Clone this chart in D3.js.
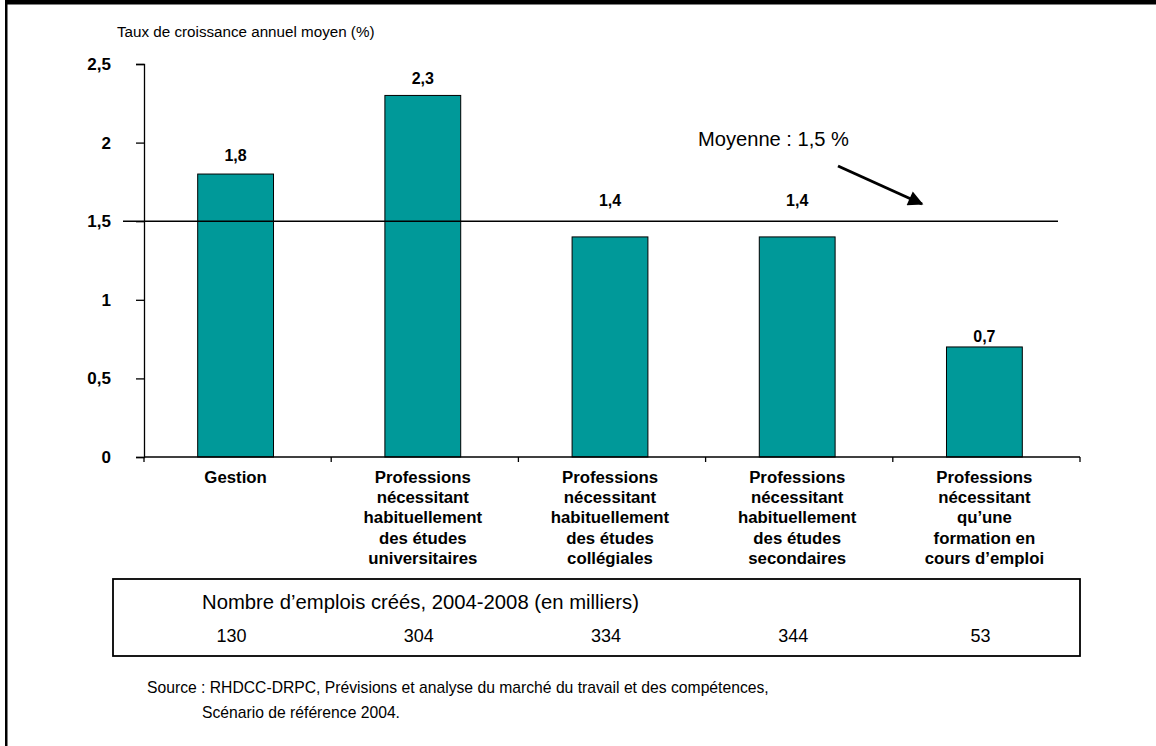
<!DOCTYPE html>
<html>
<head>
<meta charset="utf-8">
<script src="https://cdn.jsdelivr.net/npm/d3@7"></script>
<style>
  html, body { margin: 0; padding: 0; background: #fff; }
  svg { display: block; }
  text { font-family: Arial, "Liberation Sans", sans-serif; fill: #000; }
</style>
</head>
<body>
<svg id="chart" width="1156" height="746"></svg>
<script>
// Occupational groups (x categories), annual growth rate, jobs created
const categories = [
  ["Gestion"],
  ["Professions", "nécessitant", "habituellement", "des études", "universitaires"],
  ["Professions", "nécessitant", "habituellement", "des études", "collégiales"],
  ["Professions", "nécessitant", "habituellement", "des études", "secondaires"],
  ["Professions", "nécessitant", "qu’une", "formation en", "cours d’emploi"]
];
const growthRates = [1.8, 2.3, 1.4, 1.4, 0.7];
const jobsCreated = [130, 304, 334, 344, 53];
const averageRate = 1.5;
const yTicks = [0, 0.5, 1, 1.5, 2, 2.5];

const fmt = v => String(v).replace(".", ",");

const svg = d3.select("#chart");

// Page frame: heavy rule on top, thin rule down the left side
svg.append("rect").attr("x", 5).attr("y", 0).attr("width", 1151).attr("height", 4.5).attr("fill", "#000");
svg.append("rect").attr("x", 5).attr("y", 0).attr("width", 2.5).attr("height", 746).attr("fill", "#000");

const plot = { left: 144, right: 1080, top: 64, bottom: 457 };

const x = d3.scaleBand()
  .domain(d3.range(categories.length))
  .range([plot.left, plot.right])
  .paddingInner(0.595)
  .paddingOuter(0.2975);

const y = d3.scaleLinear().domain([0, 2.5]).range([plot.bottom, plot.top]);

// Y axis title
svg.append("text")
  .attr("x", 117).attr("y", 37)
  .style("font-size", "15.2px")
  .text("Taux de croissance annuel moyen (%)");

// Bars
svg.append("g").selectAll("rect")
  .data(growthRates)
  .join("rect")
  .attr("x", (d, i) => x(i) - 2)
  .attr("width", x.bandwidth())
  .attr("y", d => y(d))
  .attr("height", d => y(0) - y(d))
  .attr("fill", "#009999")
  .attr("stroke", "#000")
  .attr("stroke-width", 1);

// Value labels above the bars
const labelLift = [19, 17, 37, 37, 11];
svg.append("g").selectAll("text")
  .data(growthRates)
  .join("text")
  .attr("x", (d, i) => x(i) + x.bandwidth() / 2 - 2)
  .attr("y", (d, i) => y(d) - labelLift[i] + 6)
  .attr("text-anchor", "middle")
  .style("font-size", "16px")
  .style("font-weight", "bold")
  .text(d => fmt(d));

// Y axis
const yAxis = svg.append("g")
  .attr("transform", `translate(${plot.left},0)`)
  .call(d3.axisLeft(y).tickValues(yTicks).tickSize(8).tickSizeOuter(8).tickPadding(25).tickFormat(fmt));
yAxis.selectAll("path, line").attr("stroke", "#000").attr("stroke-width", 1.3);
yAxis.selectAll("text")
  .style("font-size", "17px")
  .style("font-weight", "bold")
  .style("font-family", "Arial, 'Liberation Sans', sans-serif");

// X axis baseline with ticks on category boundaries
const xAxisG = svg.append("g");
xAxisG.append("line")
  .attr("x1", plot.left).attr("x2", plot.right)
  .attr("y1", y(0)).attr("y2", y(0))
  .attr("stroke", "#000").attr("stroke-width", 1.3);
const step = x.step();
xAxisG.selectAll("line.tick")
  .data(d3.range(categories.length + 1))
  .join("line")
  .attr("class", "tick")
  .attr("x1", i => plot.left + i * step).attr("x2", i => plot.left + i * step)
  .attr("y1", y(0)).attr("y2", y(0) + 5)
  .attr("stroke", "#000").attr("stroke-width", 1.3);

// Category labels
const catG = svg.append("g").selectAll("text")
  .data(categories)
  .join("text")
  .attr("x", (d, i) => x(i) + x.bandwidth() / 2 - 2)
  .attr("y", 483)
  .attr("text-anchor", "middle")
  .style("font-size", "16.8px")
  .style("font-weight", "bold");
catG.selectAll("tspan")
  .data(d => d)
  .join("tspan")
  .attr("x", function () { return d3.select(this.parentNode).attr("x"); })
  .attr("dy", (d, j) => j === 0 ? 0 : 20.2)
  .text(d => d);

// Average line with callout
svg.append("line")
  .attr("x1", 123).attr("x2", 1058)
  .attr("y1", y(averageRate)).attr("y2", y(averageRate))
  .attr("stroke", "#000").attr("stroke-width", 1.5);

svg.append("defs").append("marker")
  .attr("id", "arrowhead")
  .attr("viewBox", "0 0 10 10")
  .attr("refX", 9).attr("refY", 5)
  .attr("markerWidth", 7).attr("markerHeight", 5)
  .attr("markerUnits", "strokeWidth")
  .attr("orient", "auto")
  .append("path").attr("d", "M0,0 L10,5 L0,10 Z").attr("fill", "#000");

svg.append("line")
  .attr("x1", 838).attr("y1", 166)
  .attr("x2", 922).attr("y2", 204)
  .attr("stroke", "#000").attr("stroke-width", 3)
  .attr("marker-end", "url(#arrowhead)");

svg.append("text")
  .attr("x", 698).attr("y", 146)
  .style("font-size", "19.5px")
  .attr("textLength", 151)
  .attr("lengthAdjust", "spacingAndGlyphs")
  .text(`Moyenne : ${fmt(averageRate)} %`);

// Jobs-created table
svg.append("rect")
  .attr("x", 113).attr("y", 579)
  .attr("width", 967).attr("height", 77)
  .attr("fill", "none")
  .attr("stroke", "#000").attr("stroke-width", 1.8);

svg.append("text")
  .attr("x", 202).attr("y", 609)
  .style("font-size", "19.5px")
  .attr("textLength", 437)
  .attr("lengthAdjust", "spacingAndGlyphs")
  .text("Nombre d’emplois créés, 2004-2008 (en milliers)");

svg.append("g").selectAll("text")
  .data(jobsCreated)
  .join("text")
  .attr("x", (d, i) => x(i) + x.bandwidth() / 2 - 6)
  .attr("y", 642)
  .attr("text-anchor", "middle")
  .style("font-size", "18px")
  .text(d => d);

// Source note
svg.append("text")
  .attr("x", 147).attr("y", 693)
  .style("font-size", "15.7px")
  .text("Source : RHDCC-DRPC, Prévisions et analyse du marché du travail et des compétences,");
svg.append("text")
  .attr("x", 202).attr("y", 718)
  .style("font-size", "15.7px")
  .text("Scénario de référence 2004.");
</script>
</body>
</html>
